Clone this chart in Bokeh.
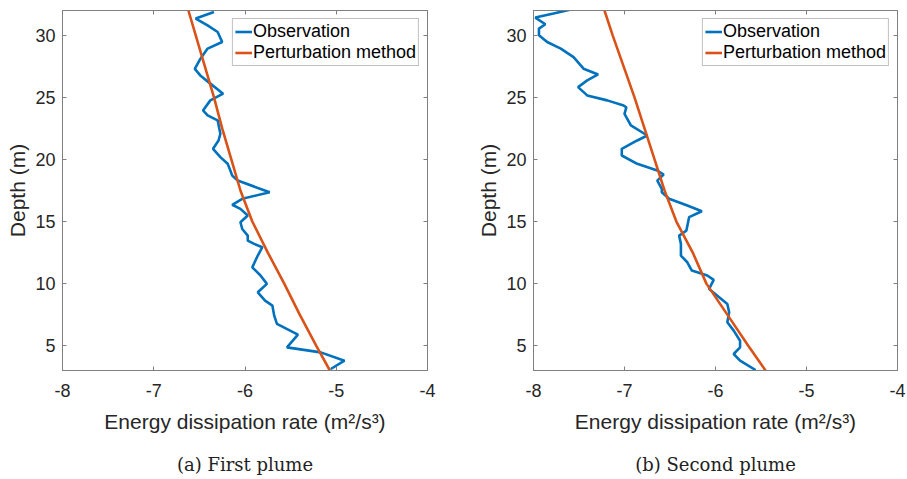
from bokeh.plotting import figure
from bokeh.layouts import row
from bokeh.models import (Range1d, FixedTicker, LinearAxis, CustomJSTickFormatter)
from bokeh.embed import file_html
from bokeh.resources import INLINE

# ---------------- data ----------------
x_ticks = [-8, -7, -6, -5, -4]
y_ticks = [5, 10, 15, 20, 25, 30]

# First plume - observation
obs1_depth = [31.88, 31.35, 30.8, 30.27, 29.46, 28.93, 28.1, 27.3, 26.77, 26.23, 25.3, 24.76,
              23.95, 23.55, 23.15, 22.07, 21.53, 20.86, 20.19, 19.65, 19.1, 18.7, 18.3, 17.36,
              16.83, 16.35, 16.02, 15.48, 14.94, 14.4, 13.87, 13.47, 13.2, 12.93, 12.26, 11.31,
              10.65, 9.98, 9.3, 8.63, 8.23, 7.42, 6.75, 5.89, 4.86, 4.46, 3.79, 3.12]
obs1_eps = [-6.34, -6.54, -6.41, -6.30, -6.25, -6.41, -6.49, -6.55, -6.49, -6.40, -6.24, -6.38,
            -6.46, -6.41, -6.30, -6.27, -6.29, -6.35, -6.27, -6.19, -6.16, -6.14, -6.08, -5.73,
            -6.03, -6.14, -6.05, -5.97, -6.05, -6.03, -5.97, -5.97, -5.90, -5.81, -5.86, -5.92,
            -5.83, -5.76, -5.86, -5.78, -5.70, -5.68, -5.65, -5.42, -5.54, -5.17, -4.91, -5.06]

# First plume - perturbation method
mod1_depth = [3, 5, 7.5, 10, 12.5, 15, 17.5, 20, 22.5, 25, 27.5, 30, 32]
mod1_eps = [-5.07, -5.22, -5.40, -5.57, -5.75, -5.92, -6.05, -6.15, -6.25, -6.34, -6.44, -6.54, -6.62]

# Second plume - observation
obs2_depth = [32.07, 31.75, 31.43, 30.89, 30.54, 30.0, 29.46, 28.93, 28.25, 27.31, 26.85, 26.37,
              25.83, 25.16, 24.76, 24.35, 24.2, 23.68, 22.74, 21.93, 21.53, 20.86, 20.32, 19.65,
              19.11, 18.79, 18.3, 17.64, 17.36, 16.83, 16.29, 15.83, 15.35, 14.27, 13.87, 13.2,
              12.26, 11.72, 11.05, 10.65, 10.3, 9.57, 9.03, 8.36, 7.69, 6.88, 6.21, 5.4, 4.86,
              4.33, 3.79, 3.04]
obs2_eps = [-7.60, -7.78, -7.98, -7.87, -7.94, -7.94, -7.85, -7.70, -7.56, -7.45, -7.29, -7.41,
            -7.51, -7.41, -7.19, -7.01, -6.98, -7.00, -6.93, -6.75, -6.86, -7.03, -7.03, -6.86,
            -6.64, -6.57, -6.64, -6.59, -6.59, -6.51, -6.31, -6.15, -6.29, -6.32, -6.40, -6.38,
            -6.38, -6.31, -6.26, -6.09, -6.02, -6.07, -5.98, -5.87, -5.85, -5.87, -5.80, -5.73,
            -5.73, -5.80, -5.73, -5.56]

# Second plume - perturbation method
mod2_depth = [3, 5, 7.5, 10, 12.5, 15, 17.5, 20, 22.5, 25, 27.5, 30, 32]
mod2_eps = [-5.45, -5.64, -5.87, -6.10, -6.25, -6.43, -6.56, -6.67, -6.78, -6.89, -7.01, -7.13, -7.22]

captions = ["(a) First plume", "(b) Second plume"]
x_label = "Energy dissipation rate (m\u00b2/s\u00b3)"
y_label = "Depth (m)"
legend_labels = ["Observation", "Perturbation method"]

BLUE = "#0072BD"
ORANGE = "#D95319"
AXIS_COL = "#7f7f7f"
TEXT_COL = "#262626"
SANS = "Liberation Sans"


def style_axis(ax):
    ax.major_tick_in = 4
    ax.major_tick_out = 0
    ax.minor_tick_line_color = None
    ax.axis_line_color = AXIS_COL
    ax.major_tick_line_color = AXIS_COL
    ax.major_label_text_font = SANS
    ax.major_label_text_font_size = "18px"
    ax.major_label_text_color = TEXT_COL
    ax.axis_label_text_font = SANS
    ax.axis_label_text_font_size = "21px"
    ax.axis_label_text_font_style = "normal"
    ax.axis_label_text_color = TEXT_COL


def make_panel(width, mbl, mbr, od, oe, md, me, caption):
    p = figure(width=width, height=479, x_range=Range1d(-8, -4), y_range=Range1d(3, 32),
               output_backend="svg", toolbar_location=None,
               min_border_left=mbl, min_border_right=mbr, min_border_top=10,
               min_border_bottom=109)
    p.xgrid.grid_line_color = None
    p.ygrid.grid_line_color = None
    p.outline_line_color = AXIS_COL
    p.background_fill_color = "white"
    p.border_fill_color = "white"

    p.xaxis.ticker = FixedTicker(ticks=x_ticks)
    p.yaxis.ticker = FixedTicker(ticks=y_ticks)
    p.xaxis.major_label_overrides = {t: str(t) for t in x_ticks}
    p.yaxis.major_label_overrides = {t: str(t) for t in y_ticks}
    p.xaxis.axis_label = x_label
    p.yaxis.axis_label = y_label
    p.xaxis.major_label_standoff = 13
    p.xaxis.axis_label_standoff = 10
    p.yaxis.major_label_standoff = 7
    p.yaxis.axis_label_standoff = 3
    for ax in p.xaxis + p.yaxis:
        style_axis(ax)

    blank = "return ''"
    top = LinearAxis(ticker=FixedTicker(ticks=x_ticks),
                     formatter=CustomJSTickFormatter(code=blank), major_label_standoff=0)
    right = LinearAxis(ticker=FixedTicker(ticks=y_ticks),
                       formatter=CustomJSTickFormatter(code=blank), major_label_standoff=0)
    for ax in (top, right):
        style_axis(ax)
        ax.major_label_text_font_size = "1px"
    p.add_layout(top, "above")
    p.add_layout(right, "right")

    # caption: a tick-less axis whose label is the sub-figure caption
    cap = LinearAxis(ticker=FixedTicker(ticks=[]), axis_label=caption,
                     axis_line_color=None, major_tick_line_color=None,
                     minor_tick_line_color=None, major_tick_in=0, major_tick_out=0,
                     minor_tick_in=0, minor_tick_out=0, major_label_standoff=0,
                     axis_label_standoff=18, axis_label_text_font="DejaVu Serif",
                     axis_label_text_font_size="18px", axis_label_text_font_style="normal",
                     axis_label_text_color="#222222")
    p.add_layout(cap, "below")

    p.line(oe, od, line_color=BLUE, line_width=2.6, legend_label=legend_labels[0])
    p.line(me, md, line_color=ORANGE, line_width=2.6, legend_label=legend_labels[1])

    lg = p.legend[0]
    lg.location = "top_right"
    lg.margin = 8
    lg.padding = 2
    lg.spacing = 0
    lg.border_line_color = AXIS_COL
    lg.border_line_width = 1
    lg.background_fill_color = "white"
    lg.background_fill_alpha = 1
    lg.label_text_font = SANS
    lg.label_text_font_size = "18px"
    lg.label_text_color = "black"
    lg.label_height = 21
    lg.glyph_height = 21
    lg.glyph_width = 17
    lg.label_standoff = 1
    return p


p1 = make_panel(460, 62, 33, obs1_depth, obs1_eps, mod1_depth, mod1_eps, captions[0])
p2 = make_panel(447, 73, 10, obs2_depth, obs2_eps, mod2_depth, mod2_eps, captions[1])

layout = row(p1, p2)
open("out.html", "w").write(file_html(layout, INLINE))
